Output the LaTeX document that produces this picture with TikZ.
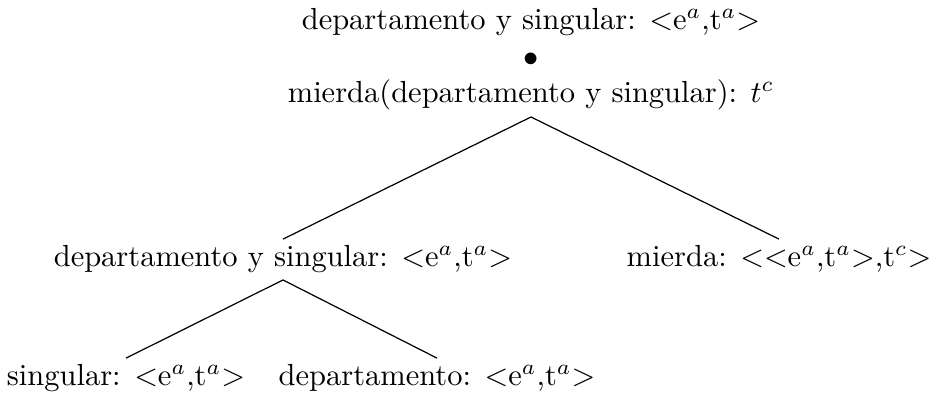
\documentclass[tikz,border=0pt]{standalone}
\begin{document}
\begin{tikzpicture}[x=0.328pt, y=-0.328pt, lbl/.style={inner sep=2pt}]
    \useasboundingbox (0,0) rectangle (931,396);
    \node[lbl, align=center, anchor=south] (top) at (531,117)
        {departamento y singular: <e$^a$,t$^a$>\\ $\bullet$\\ mierda(departamento y singular): $t^c$};
    \node[lbl, anchor=base] (mid) at (283,267) {departamento y singular: <e$^a$,t$^a$>};
    \node[lbl, anchor=base] (mierda) at (779,267) {mierda: \mbox{<}\mbox{<}e$^a$,t$^a$>,t$^c$>};
    \node[lbl, anchor=base] (sing) at (126,386) {singular: <e$^a$,t$^a$>};
    \node[lbl, anchor=base] (depto) at (437,386) {departamento: <e$^a$,t$^a$>};
    \draw (top.south) -- (mid.north);
    \draw (top.south) -- (mierda.north);
    \draw (mid.south) -- (sing.north);
    \draw (mid.south) -- (depto.north);
\end{tikzpicture}
\end{document}
